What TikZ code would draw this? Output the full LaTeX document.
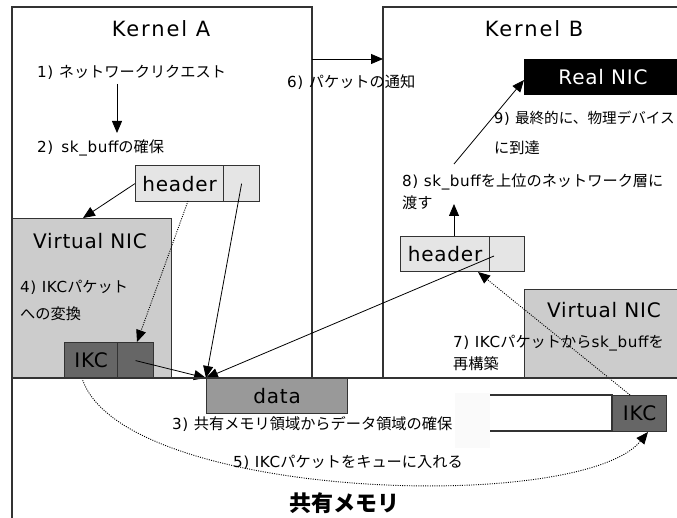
\documentclass[tikz,border=0pt]{standalone}
\usepackage{fontspec}
\setmainfont{DejaVu Sans}[LetterSpace=4]
\newfontfamily\titlefont{DejaVu Sans}[LetterSpace=9]
\newfontfamily\jp{Noto Sans CJK JP}
\usetikzlibrary{arrows.meta}
\definecolor{linecol}{HTML}{333333}
\definecolor{hdrfill}{HTML}{E5E5E5}
\definecolor{vnicfill}{HTML}{CCCCCC}
\definecolor{ikcfill}{HTML}{666666}
\definecolor{datafill}{HTML}{999999}
\tikzset{
  box/.style={draw=linecol, line width=1.2pt},
  arr/.style={draw=black, line width=0.8pt, -{Triangle[length=12pt,width=10pt]}},
  darr/.style={draw=black, line width=0.9pt, dash pattern=on 1pt off 1.3pt, -{Triangle[length=12pt,width=10pt]}},
  lbl/.style={anchor=west, inner sep=0pt, font=\fontsize{15.2}{18}\selectfont},
  big/.style={inner sep=0pt, font=\fontsize{20}{24}\selectfont},
  title/.style={inner sep=0pt, font=\fontsize{21}{24}\selectfont\titlefont},
}
\begin{document}
\begin{tikzpicture}[x=1pt,y=-1pt]
\useasboundingbox (0,0) rectangle (677,518);
\clip (0,0) rectangle (677,518);
\fill[white] (0,0) rectangle (677,518);
% main regions
\draw[box] (12,7) rectangle (312,378);
\draw[box] (383,7) rectangle (690,378);
\draw[box] (12,378) rectangle (690,530);
\node[title] (ka) at (161,29) {Kernel A};
\node[title] (kb) at (534,29) {Kernel B};
% Kernel A
\node[lbl] (t1) at (37,72) {1) {\jp ネットワークリクエスト}};
\node[lbl] (t2) at (37,148) {2)\, sk\_buff{\jp の確保}};
\coordinate (a1s) at (117,84);
\coordinate (a1e) at (117,133);
\draw[arr] (a1s) -- (a1e);
\node[box, fill=hdrfill, minimum width=88pt, minimum height=36pt, inner sep=0pt, anchor=north west, big] (hdrA) at (135,165) {header};
\node[box, fill=hdrfill, minimum width=36pt, minimum height=36pt, inner sep=0pt, anchor=north west] (hdrA2) at (223,165) {};
\node[box, fill=vnicfill, minimum width=159pt, minimum height=160pt, inner sep=0pt, anchor=north west] (vnicA) at (12,218) {};
\node[big] (vnicAl) at (90,241) {Virtual NIC};
\node[lbl] (t4a) at (20,287) {4) IKC{\jp パケット}};
\node[lbl] (t4b) at (20,314) {{\jp への変換}};
\node[box, fill=ikcfill, minimum width=53pt, minimum height=36pt, inner sep=0pt, anchor=north west, big] (ikcA) at (64,342) {IKC};
\node[box, fill=ikcfill, minimum width=36pt, minimum height=36pt, inner sep=0pt, anchor=north west] (ikcA2) at (117,342) {};
\draw[arr] (hdrA.west) -- (83,218);
\draw[darr] (188,201) -- (137,342);
% data
\node[box, fill=datafill, minimum width=141pt, minimum height=35pt, inner sep=0pt, anchor=north west, big] (data) at (206,378) {data};
\coordinate (dtip) at (206,378);
\draw[arr] (ikcA2.center) -- (dtip);
\draw[arr] (hdrA2.center) -- (dtip);
\node[lbl] (t3) at (172,424) {3) {\jp 共有メモリ領域からデータ領域の確保}};
% queue
\draw[box, fill=white] (460,395) rectangle (612,431);
\node[box, fill=ikcfill, minimum width=54pt, minimum height=36pt, inner sep=0pt, anchor=north west, big] (ikcB) at (612,395) {IKC};
\fill[white!98!black] (455,393) rectangle (490,448);
\draw[darr] (82,378) .. controls (120,500) and (580,515) .. (648,432);
\node[lbl] (t5) at (233,462) {5) IKC{\jp パケットをキューに入れる}};
\node[inner sep=0pt, font=\fontsize{22}{26}\selectfont\jp\bfseries] (shm) at (344,503) {共有メモリ};
% arrow 6
\draw[arr] (312,59) -- (383,59);
\node[lbl] (t6) at (287,82) {6) {\jp パケットの通知}};
% Kernel B
\node[fill=black, minimum width=166pt, minimum height=36pt, inner sep=0pt, anchor=north west] (rnic) at (524,59) {};
\node[big, text=white] (rnicl) at (603,77) {Real NIC};
\draw[arr] (454,164) -- (524,80);
\node[lbl, font=\fontsize{14.6}{18}\selectfont] (t9a) at (494,118) {9) {\jp 最終的に、物理デバイス}};
\node[lbl] (t9b) at (494,148) {{\jp に到達}};
\node[lbl] (t8a) at (402,182) {8) sk\_buff{\jp を上位のネットワーク層に}};
\node[lbl] (t8b) at (402,203) {{\jp 渡す}};
\node[box, fill=hdrfill, minimum width=89pt, minimum height=35pt, inner sep=0pt, anchor=north west, big] (hdrB) at (400,236) {header};
\node[box, fill=hdrfill, minimum width=35pt, minimum height=35pt, inner sep=0pt, anchor=north west] (hdrB2) at (489,236) {};
\draw[arr] (454,236) -- (454,204);
\node[box, fill=vnicfill, minimum width=166pt, minimum height=89pt, inner sep=0pt, anchor=north west] (vnicB) at (524,289) {};
\node[big] (vnicBl) at (604,310) {Virtual NIC};
\node[lbl] (t7a) at (453,343) {7) IKC{\jp パケットから}sk\_buff{\jp を}};
\node[lbl] (t7b) at (453,364) {{\jp 再構築}};
\draw[darr] (630,395) -- (478,272);
\draw[arr] (494,256) -- (dtip);
% redraw kernel line over
\draw[box] (12,378) -- (690,378);
\end{tikzpicture}
\end{document}
